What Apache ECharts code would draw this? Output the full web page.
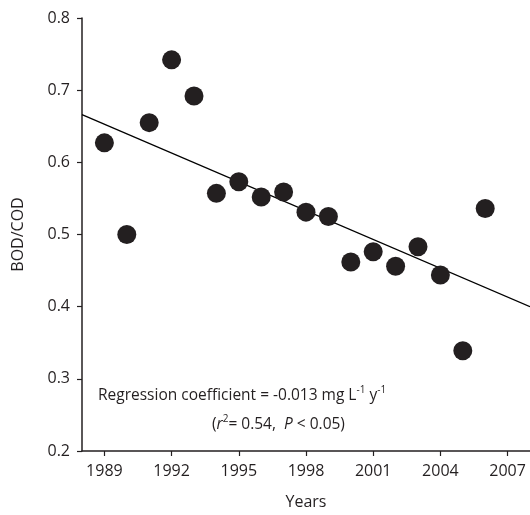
<!DOCTYPE html>
<html>
<head>
<meta charset="utf-8">
<script src="https://cdn.jsdelivr.net/npm/echarts@6/dist/echarts.min.js"></script>
<style>
  html, body { margin: 0; padding: 0; background: #fff; }
  #chart { width: 530px; height: 515px; }
</style>
</head>
<body>
<div id="chart"></div>
<script>
// observed BOD/COD ratio by year
const years = [1989, 1990, 1991, 1992, 1993, 1994, 1995, 1996, 1997, 1998, 1999, 2000, 2001, 2002, 2003, 2004, 2005, 2006];
const ratios = [0.627, 0.500, 0.655, 0.742, 0.692, 0.557, 0.573, 0.552, 0.559, 0.531, 0.525, 0.462, 0.476, 0.456, 0.483, 0.444, 0.339, 0.536];
// fitted regression line, read at the ends of the axis
const fitYears = [1988, 2008];
const fitValues = [0.666, 0.400];
const yearTicks = [1989, 1992, 1995, 1998, 2001, 2004, 2007];

const font = 'Open Sans';
const ink = '#231f20';

const chart = echarts.init(document.getElementById('chart'));
chart.setOption({
  animation: false,
  textStyle: { fontFamily: font },
  grid: { left: 82, right: 0, top: 18, bottom: 64 },
  xAxis: {
    type: 'value',
    min: 1988,
    max: 2008,
    name: 'Years',
    nameLocation: 'middle',
    nameGap: 43,
    nameTextStyle: { color: ink, fontSize: 16, fontFamily: font },
    axisLine: { onZero: false, lineStyle: { color: ink, width: 1.5 } },
    axisTick: { show: true, length: 5, customValues: yearTicks, lineStyle: { color: ink, width: 1.2 } },
    axisLabel: {
      customValues: yearTicks, margin: 12, color: ink, fontSize: 16, fontFamily: font,
      formatter: v => String(v)
    },
    splitLine: { show: false }
  },
  yAxis: {
    type: 'value',
    min: 0.2,
    max: 0.8,
    interval: 0.1,
    name: 'BOD/COD',
    nameLocation: 'middle',
    nameGap: 56,
    nameTextStyle: { color: ink, fontSize: 16, fontFamily: font },
    axisLine: { show: true, lineStyle: { color: ink, width: 1.5 } },
    axisTick: { show: true, length: 5, lineStyle: { color: ink, width: 1.2 } },
    axisLabel: { margin: 12, color: ink, fontSize: 16, fontFamily: font },
    splitLine: { show: false }
  },
  graphic: [
    {
      type: 'text',
      left: 98,
      top: 385,
      style: {
        text: '{n|Regression coefficient = -0.013 mg L}{s|-1}{n| y}{s|-1}',
        rich: {
          n: { fontSize: 15.5, fontFamily: font, fill: ink, lineHeight: 22 },
          s: { fontSize: 10, fontFamily: font, fill: ink, verticalAlign: 'top', lineHeight: 14 }
        }
      }
    },
    {
      type: 'text',
      left: 212,
      top: 414,
      style: {
        text: '{n|(}{i|r}{s|2}{n|= 0.54,  }{i|P}{n| < 0.05)}',
        rich: {
          n: { fontSize: 15.5, fontFamily: font, fill: ink, lineHeight: 22 },
          i: { fontSize: 15.5, fontFamily: font, fontStyle: 'italic', fill: ink, lineHeight: 22 },
          s: { fontSize: 10, fontFamily: font, fill: ink, verticalAlign: 'top', lineHeight: 14 }
        }
      }
    }
  ],
  series: [
    {
      type: 'line',
      data: fitYears.map((y, i) => [y, fitValues[i]]),
      symbol: 'none',
      silent: true,
      lineStyle: { color: '#000', width: 1.3 },
      z: 1
    },
    {
      type: 'scatter',
      data: years.map((y, i) => [y, ratios[i]]),
      symbolSize: 19,
      itemStyle: { color: ink, opacity: 1 },
      z: 2
    }
  ]
});
</script>
</body>
</html>
